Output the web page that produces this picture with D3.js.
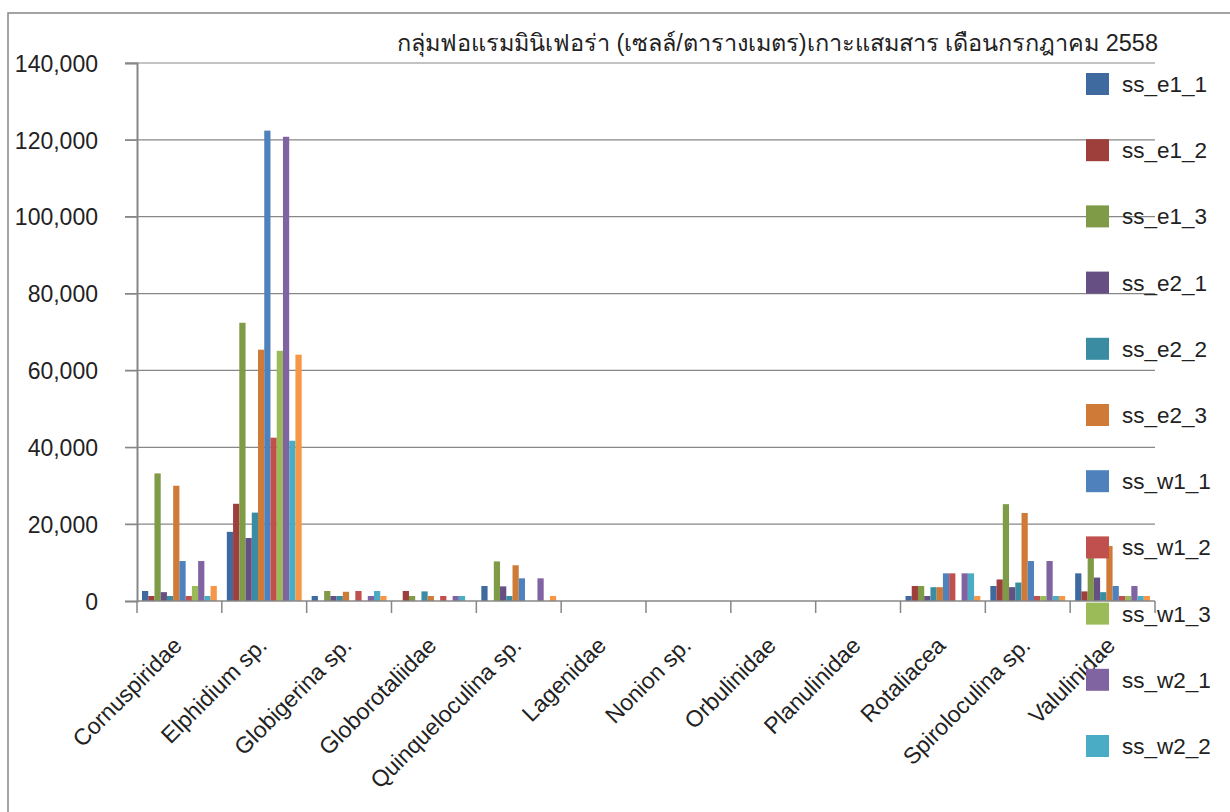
<!DOCTYPE html>
<html>
<head>
<meta charset="utf-8">
<script src="https://cdn.jsdelivr.net/npm/d3@7"></script>
<style>
  body { margin:0; background:#fff; }
  svg { display:block; font-family:"Liberation Sans", Arial, sans-serif; }
</style>
</head>
<body>
<svg id="chart" width="1230" height="812"></svg>
<script>
var categories = ["Cornuspiridae", "Elphidium sp.", "Globigerina sp.", "Globorotaliidae",
  "Quinqueloculina sp.", "Lagenidae", "Nonion sp.", "Orbulinidae", "Planulinidae",
  "Rotaliacea", "Spiroloculina sp.", "Valulinidae"];

var seriesNames = ["ss_e1_1", "ss_e1_2", "ss_e1_3", "ss_e2_1", "ss_e2_2", "ss_e2_3",
  "ss_w1_1", "ss_w1_2", "ss_w1_3", "ss_w2_1", "ss_w2_2", "ss_w2_3"];

var ss_e1_1 = [2600, 18000, 1300, 0, 3900, 0, 0, 0, 0, 1300, 3900, 7200];
var ss_e1_2 = [1300, 25300, 0, 2600, 0, 0, 0, 0, 0, 3900, 5600, 2500];
var ss_e1_3 = [33200, 72400, 2600, 1300, 10300, 0, 0, 0, 0, 3900, 25200, 14000];
var ss_e2_1 = [2300, 16400, 1300, 0, 3800, 0, 0, 0, 0, 1300, 3600, 6100];
var ss_e2_2 = [1300, 23000, 1300, 2500, 1300, 0, 0, 0, 0, 3600, 4800, 2300];
var ss_e2_3 = [30000, 65400, 2400, 1300, 9300, 0, 0, 0, 0, 3600, 22900, 14300];
var ss_w1_1 = [10400, 122400, 0, 0, 5900, 0, 0, 0, 0, 7200, 10400, 3900];
var ss_w1_2 = [1300, 42500, 2600, 1300, 0, 0, 0, 0, 0, 7200, 1300, 1300];
var ss_w1_3 = [3900, 65100, 0, 0, 0, 0, 0, 0, 0, 0, 1300, 1300];
var ss_w2_1 = [10400, 120800, 1300, 1300, 5900, 0, 0, 0, 0, 7200, 10400, 3900];
var ss_w2_2 = [1300, 41700, 2600, 1300, 0, 0, 0, 0, 0, 7200, 1300, 1300];
var ss_w2_3 = [3900, 64100, 1300, 0, 1300, 0, 0, 0, 0, 1300, 1300, 1300];

var yTicks = [0, 20000, 40000, 60000, 80000, 100000, 120000, 140000];

var colors = ["#3f6a9f", "#9e3f3c", "#7f9b48", "#664f83", "#3a8ca3", "#cf7b37",
  "#4f81bd", "#c0504d", "#9bbb59", "#8064a2", "#4bacc6", "#f79646"];

var title = "กลุ่มฟอแรมมินิเฟอร่า (เซลล์/ตารางเมตร)เกาะแสมสาร เดือนกรกฎาคม 2558";

var seriesValues = [ss_e1_1, ss_e1_2, ss_e1_3, ss_e2_1, ss_e2_2, ss_e2_3,
  ss_w1_1, ss_w1_2, ss_w1_3, ss_w2_1, ss_w2_2, ss_w2_3];

// flat table: one row per bar
var rows = [];
categories.forEach(function(c, ci) {
  seriesNames.forEach(function(s, si) {
    rows.push({cat: c, key: s, value: seriesValues[si][ci], color: colors[si]});
  });
});

var W = 1230, H = 812;
var svg = d3.select("#chart");
var plot = {left: 137, right: 1155, top: 63, bottom: 601};
var axisGrey = "#878787";

// outer chart frame (runs off the right / bottom of the picture)
svg.append("rect")
  .attr("x", 8).attr("y", 13)
  .attr("width", 1300).attr("height", 900)
  .attr("fill", "none")
  .attr("stroke", axisGrey)
  .attr("stroke-width", 1.5);

var x = d3.scaleBand()
  .domain(categories)
  .range([plot.left, plot.right]);

var xSub = d3.scaleBand()
  .domain(seriesNames)
  .range([5, x.bandwidth() - 5]);

var y = d3.scaleLinear()
  .domain([0, 140000])
  .range([plot.bottom, plot.top]);

// gridlines
svg.append("g")
  .selectAll("line")
  .data(yTicks.filter(function(d) { return d > 0; }))
  .enter().append("line")
  .attr("x1", plot.left - 12)
  .attr("x2", plot.right)
  .attr("y1", function(d) { return y(d); })
  .attr("y2", function(d) { return y(d); })
  .attr("stroke", axisGrey)
  .attr("stroke-width", 1.2);

// bars
svg.append("g")
  .selectAll("rect")
  .data(rows.filter(function(d) { return d.value > 0; }))
  .enter().append("rect")
  .attr("x", function(d) { return x(d.cat) + xSub(d.key); })
  .attr("width", xSub.bandwidth())
  .attr("y", function(d) { return y(d.value); })
  .attr("height", function(d) { return y(0) - y(d.value); })
  .attr("fill", function(d) { return d.color; });

// y axis
var yAxis = svg.append("g")
  .attr("transform", "translate(" + plot.left + ",0)")
  .call(d3.axisLeft(y).tickValues(yTicks).tickSize(12).tickPadding(27)
    .tickFormat(d3.format(",")));
yAxis.select(".domain").attr("stroke", axisGrey).attr("stroke-width", 2);
yAxis.selectAll(".tick line").attr("stroke", axisGrey).attr("stroke-width", 1.2);
yAxis.selectAll(".tick text")
  .attr("fill", "#222")
  .style("font-size", "23px")
  .attr("dy", "0.36em");

// x axis, ticks sit on the category boundaries
var bounds = categories.map(function(c) { return x(c); }).concat([plot.right]);
svg.append("line")
  .attr("x1", plot.left).attr("x2", plot.right)
  .attr("y1", plot.bottom).attr("y2", plot.bottom)
  .attr("stroke", axisGrey).attr("stroke-width", 1.5);
svg.append("g")
  .selectAll("line")
  .data(bounds)
  .enter().append("line")
  .attr("x1", function(d) { return d; })
  .attr("x2", function(d) { return d; })
  .attr("y1", plot.bottom)
  .attr("y2", plot.bottom + 12)
  .attr("stroke", axisGrey)
  .attr("stroke-width", 1.5);

svg.append("g")
  .selectAll("text")
  .data(categories)
  .enter().append("text")
  .attr("transform", function(d) {
    return "translate(" + (x(d) + x.bandwidth() / 2 + 4) + "," + (plot.bottom + 46) + ") rotate(-45)";
  })
  .attr("text-anchor", "end")
  .attr("fill", "#222")
  .style("font-size", "23px")
  .text(function(d) { return d; });

// title
svg.append("text")
  .attr("x", 1158)
  .attr("y", 51)
  .attr("text-anchor", "end")
  .attr("fill", "#222")
  .style("font-size", "23.5px")
  .text(title);

// legend drawn last, on top of the plot; entries that do not fit are dropped
var legendTop = 73, legendStep = 66.2;
var legendItems = seriesNames.filter(function(d, i) {
  return legendTop + i * legendStep + 22 <= H;
});
var legend = svg.append("g")
  .attr("transform", "translate(1086," + legendTop + ")");
var li = legend.selectAll("g")
  .data(legendItems)
  .enter().append("g")
  .attr("transform", function(d, i) { return "translate(0," + (i * legendStep) + ")"; });
li.append("rect")
  .attr("width", 23)
  .attr("height", 22)
  .attr("fill", function(d, i) { return colors[i]; });
li.append("text")
  .attr("x", 36)
  .attr("y", 19)
  .attr("fill", "#222")
  .style("font-size", "22.5px")
  .text(function(d) { return d; });
</script>
</body>
</html>
